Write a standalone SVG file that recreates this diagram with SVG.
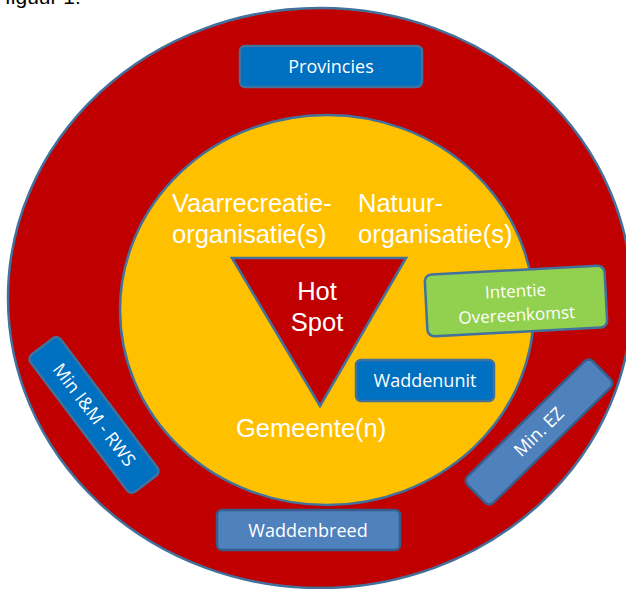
<svg xmlns="http://www.w3.org/2000/svg" width="626" height="589" viewBox="0 0 626 589">
<style>
.big{font-family:"Liberation Sans",Arial,sans-serif;font-size:25.5px;fill:#ffffff}
.lbl{font-family:"Open Sans","Noto Sans",sans-serif;font-size:18px;fill:#ffffff;text-anchor:middle}
.box{stroke:#41719c;stroke-width:2.5}
.dark{fill:#0070c0}
.light{fill:#4f81bd;stroke:#385d8a}
</style>
<rect width="626" height="589" fill="#ffffff"/>
<text x="5" y="4" font-family="Liberation Sans,Arial,sans-serif" font-size="21" fill="#000000">figuur 1:</text>
<g id="outer">
<ellipse cx="320" cy="298" rx="312" ry="290" fill="#c00000" stroke="#41719c" stroke-width="2.5"/>
</g>
<g id="inner">
<ellipse cx="327" cy="310" rx="207" ry="195" fill="#ffc000" stroke="#41719c" stroke-width="2.5"/>
</g>
<g id="connectors"></g>
<g id="vaarrecreatie">
<text class="big" x="172" y="212">Vaarrecreatie-</text>
<text class="big" x="172" y="243">organisatie(s)</text>
</g>
<g id="natuur">
<text class="big" x="358" y="212">Natuur-</text>
<text class="big" x="358" y="243">organisatie(s)</text>
</g>
<g id="hotspot">
<polygon points="232,258 406,258 320,406" fill="#c00000" stroke="#41719c" stroke-width="2.5" stroke-linejoin="miter"/>
<text class="big" x="317" y="300" text-anchor="middle">Hot</text>
<text class="big" x="317" y="331" text-anchor="middle">Spot</text>
</g>
<g id="gemeente">
<text class="big" x="236" y="437">Gemeente(n)</text>
</g>
<g id="provincies">
<rect class="box dark" x="240" y="46" width="182" height="41" rx="5"/>
<text class="lbl" x="331" y="73">Provincies</text>
</g>
<g id="waddenunit">
<rect class="box dark" x="356" y="360" width="138" height="41" rx="5"/>
<text class="lbl" x="425" y="387">Waddenunit</text>
</g>
<g id="waddenbreed">
<rect class="box light" x="217" y="510" width="183" height="40" rx="5"/>
<text class="lbl" x="308" y="537">Waddenbreed</text>
</g>
<g id="intentie" transform="translate(516,301) rotate(-3)">
<rect x="-90" y="-31" width="180" height="62" rx="7" fill="#92d050" stroke="#41719c" stroke-width="2.5"/>
<text class="lbl" x="0" y="-4" style="font-size:17px">Intentie</text>
<text class="lbl" x="0" y="20" style="font-size:17px">Overeenkomst</text>
</g>
<g id="minim" transform="translate(94,415) rotate(53)">
<rect class="box dark" x="-86" y="-19" width="172" height="38" rx="6"/>
<text class="lbl" x="0" y="6">Min I&amp;M - RWS</text>
</g>
<g id="minez" transform="translate(539,432) rotate(-44.5)">
<rect class="box light" x="-88" y="-18.5" width="176" height="37" rx="6"/>
<text class="lbl" x="0" y="6">Min. EZ</text>
</g>
</svg>
